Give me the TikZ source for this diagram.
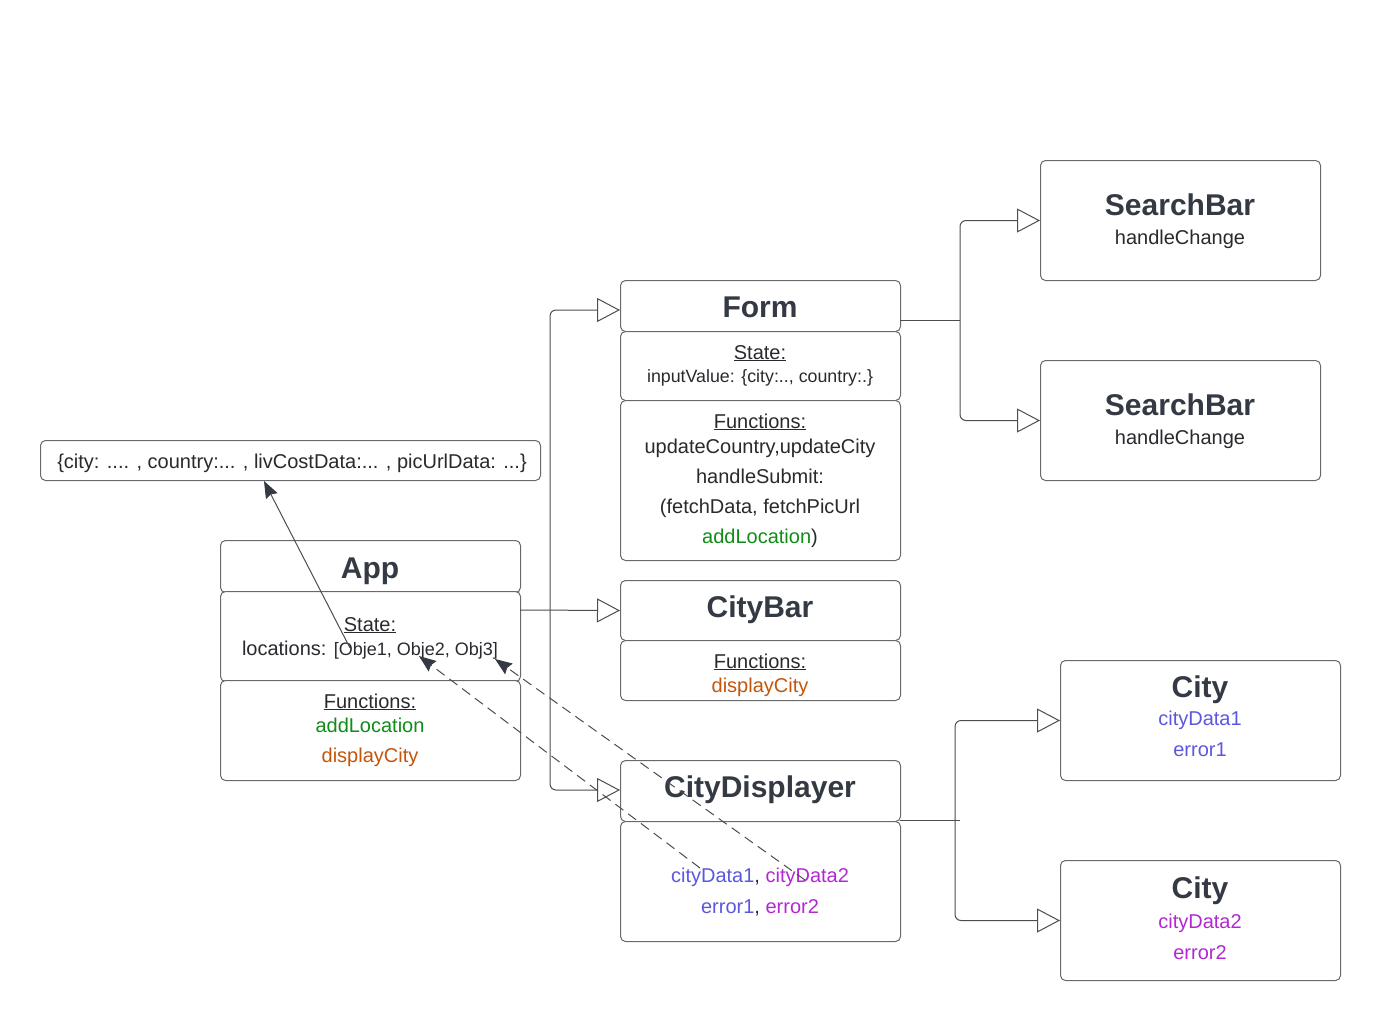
\documentclass[tikz,border=0pt]{standalone}
\usepackage{fontspec}
\setmainfont{Liberation Sans}
\usetikzlibrary{arrows.meta,calc}
\definecolor{hdr}{RGB}{52,58,68}
\definecolor{txt}{RGB}{40,42,46}
\definecolor{bord}{RGB}{105,105,108}
\definecolor{lin}{RGB}{75,77,82}
\definecolor{grn}{RGB}{16,140,24}
\definecolor{org}{RGB}{196,86,12}
\definecolor{blu}{RGB}{92,88,222}
\definecolor{pur}{RGB}{180,40,210}
\tikzset{
  box/.style={draw=bord, line width=1pt, rounded corners=5pt, anchor=north west, inner sep=0pt, fill=white},
  hd/.style={anchor=base, font=\fontsize{30}{34}\selectfont\bfseries, text=hdr, inner sep=0pt},
  tx/.style={anchor=base, font=\fontsize{20}{24}\selectfont, text=txt, inner sep=0pt},
  sm/.style={anchor=base, font=\fontsize{17.8}{21}\selectfont, text=txt, inner sep=0pt},
  conn/.style={draw=lin, line width=1pt, rounded corners=6pt},
  opentip/.style={-{Triangle[open, length=23pt, width=24pt, fill=white]}},
  dashlink/.style={draw=lin, line width=1pt, dash pattern=on 10pt off 6pt, -{Stealth[length=17pt, width=13pt, inset=2pt, color=hdr, fill=hdr]}},
  solidlink/.style={draw=lin, line width=1pt, -{Stealth[length=17pt, width=13pt, inset=2pt, color=hdr, fill=hdr]}}
}
\begin{document}
\begin{tikzpicture}[x=1pt,y=-1pt]
\useasboundingbox (0,0) rectangle (1380,1020);
% --- boxes ---
\node[box, minimum width=500pt, minimum height=40pt] (obj) at (40,440) {};
\node[box, minimum width=300pt, minimum height=52pt] (appH) at (220,540) {};
\node[box, minimum width=300pt, minimum height=90pt] (appS) at (220,591) {};
\node[box, minimum width=300pt, minimum height=100pt] (appF) at (220,680) {};
\node[box, minimum width=280pt, minimum height=51pt] (formH) at (620,280) {};
\node[box, minimum width=280pt, minimum height=69pt] (formS) at (620,331) {};
\node[box, minimum width=280pt, minimum height=160pt] (formF) at (620,400) {};
\node[box, minimum width=280pt, minimum height=60pt] (cbH) at (620,580) {};
\node[box, minimum width=280pt, minimum height=60pt] (cbF) at (620,640) {};
\node[box, minimum width=280pt, minimum height=61pt] (cdH) at (620,760) {};
\node[box, minimum width=280pt, minimum height=120pt] (cdB) at (620,821) {};
\node[box, minimum width=280pt, minimum height=120pt] (sb1) at (1040,160) {};
\node[box, minimum width=280pt, minimum height=120pt] (sb2) at (1040,360) {};
\node[box, minimum width=280pt, minimum height=120pt] (city1) at (1060,660) {};
\node[box, minimum width=280pt, minimum height=120pt] (city2) at (1060,860) {};
% --- texts ---
\node[tx, font=\fontsize{20}{24}\selectfont] (objT) at (292,468) {\{city: .... , country:... , livCostData:... , picUrlData: ...\}};
\node[hd] (appT) at (370,578) {App};
\node[tx] (appS1) at (370,631) {\underline{State:}};
\node[tx] (appS2) at (370,655) {locations: {\fontsize{18}{21}\selectfont [Obje1, Obje2, Obj3]}};
\node[tx] (appF1) at (370,708) {\underline{Functions:}};
\node[tx, text=grn] (appF2) at (370,732) {addLocation};
\node[tx, text=org] (appF3) at (370,762) {displayCity};
\node[hd] (formT) at (760,317) {Form};
\node[tx] (formS1) at (760,359) {\underline{State:}};
\node[sm] (formS2) at (760,382) {inputValue: \{city:.., country:.\}};
\node[tx] (formF1) at (760,428) {\underline{Functions:}};
\node[tx] (formF2) at (760,453) {updateCountry,updateCity};
\node[tx] (formF3) at (760,483) {handleSubmit:};
\node[tx] (formF4) at (760,513) {(fetchData, fetchPicUrl};
\node[tx] (formF5) at (760,543) {\textcolor{grn}{addLocation})};
\node[hd] (cbT) at (760,617) {CityBar};
\node[tx] (cbF1) at (760,668) {\underline{Functions:}};
\node[tx, text=org] (cbF2) at (760,692) {displayCity};
\node[hd] (cdT) at (760,797) {CityDisplayer};
\node[tx] (cdB1) at (760,882) {\textcolor{blu}{cityData1}, \textcolor{pur}{cityData2}};
\node[tx] (cdB2) at (760,913) {\textcolor{blu}{error1}, \textcolor{pur}{error2}};
\node[hd] (sb1T) at (1180,215) {SearchBar};
\node[tx] (sb1S) at (1180,244) {handleChange};
\node[hd] (sb2T) at (1180,415) {SearchBar};
\node[tx] (sb2S) at (1180,444) {handleChange};
\node[hd] (c1T) at (1200,697) {City};
\node[tx, text=blu] (c1a) at (1200,725) {cityData1};
\node[tx, text=blu] (c1b) at (1200,756) {error1};
\node[hd] (c2T) at (1200,898) {City};
\node[tx, text=pur] (c2a) at (1200,928) {cityData2};
\node[tx, text=pur] (c2b) at (1200,959) {error2};
% --- connector points ---
\coordinate (appOut) at (520,610);
\coordinate (trunkA) at (550,610);
\coordinate (formIn) at (620,310);
\coordinate (cdIn) at (620,790);
\coordinate (formOut) at (900,320);
\coordinate (trunkF) at (960,320);
\coordinate (cdOut) at (900,820);
\coordinate (trunkC) at (955,820);
\coordinate (tickC) at (960,820);
\coordinate (o1) at (350,648);
\coordinate (objIn) at (264,481);
\coordinate (d1s) at (700,868);
\coordinate (d1e) at (419,656);
\coordinate (d2s) at (805,880);
\coordinate (d2e) at (495,659);
% --- connectors ---
\draw[conn, opentip] (appOut) -- (cbH.west);
\draw[conn, opentip] (trunkA) |- (formIn);
\draw[conn, opentip] (trunkA) |- (cdIn);
\draw[conn] (formOut) -- (trunkF);
\draw[conn, opentip] (trunkF) |- (sb1.west);
\draw[conn, opentip] (trunkF) |- (sb2.west);
\draw[conn] (cdOut) -- (tickC);
\draw[conn, opentip] (trunkC) |- (city1.west);
\draw[conn, opentip] (trunkC) |- (city2.west);
\draw[solidlink] (o1) -- (objIn);
\draw[dashlink] (d1s) -- (d1e);
\draw[dashlink] (d2s) -- (d2e);
\end{tikzpicture}
\end{document}
